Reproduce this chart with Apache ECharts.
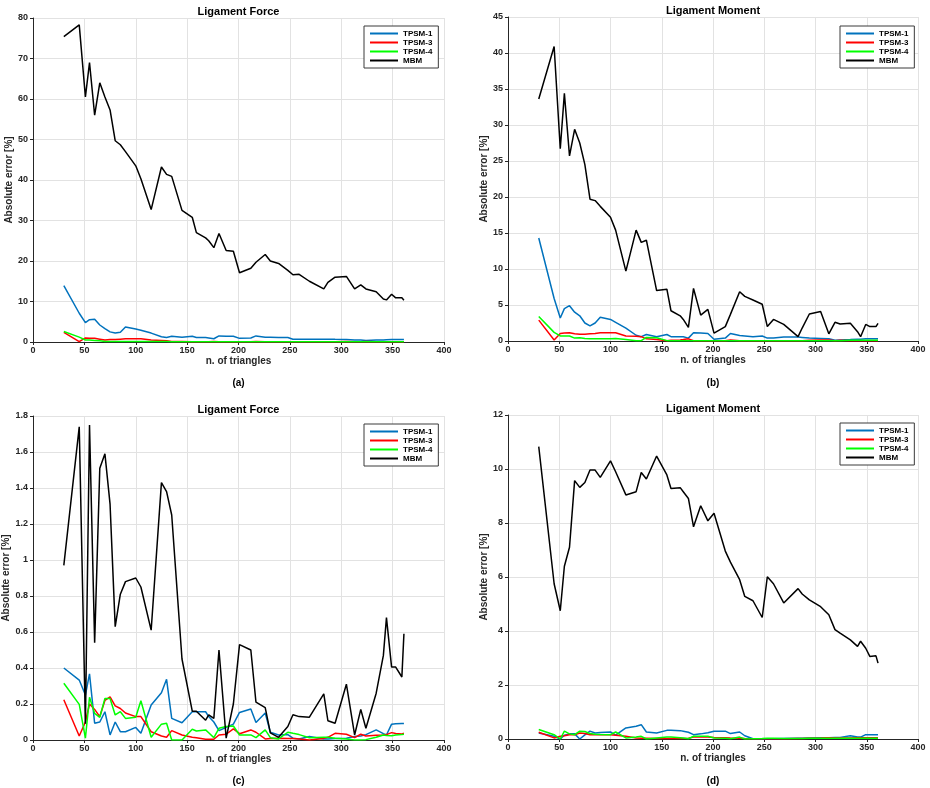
<!DOCTYPE html>
<html><head><meta charset="utf-8">
<script src="https://cdn.jsdelivr.net/npm/echarts@6/dist/echarts.min.js"></script>
<style>html,body{margin:0;padding:0;background:#fff}#c{width:930px;height:788px}</style>
</head><body><div id="c"></div>
<script>
// number of triangles (shared x values)
const triangles = [30,45,51,55,60,65,70,75,80,85,90,100,105,115,125,130,135,145,155,159,168,171,176,181,188,195,201,212,217,226,231,239,248,253,259,269,283,287,294,305,313,319,324,334,341,344,349,353,359,361];
const seriesNames = ['TPSM-1','TPSM-3','TPSM-4','MBM'];
const seriesColors = ['#0072BD','#FF0000','#00FF00','#000000'];
const panelTitles = ['Ligament Force','Ligament Moment','Ligament Force','Ligament Moment'];
const panelLabels = ['(a)','(b)','(c)','(d)'];
const yMax = [80,45,1.8,12];
const yStep = [10,5,0.2,2];

// (a) Ligament Force
const aTPSM1 = [13.9,7.1,4.8,5.5,5.6,4.2,3.3,2.5,2.2,2.4, 3.7,3.2,2.9,2.2,1.3,1.1,1.4,1.2,1.4,1.1, 1.1,1.0,0.8,1.5,1.4,1.4,0.9,1.0,1.5,1.2, 1.2,1.1,1.1,0.7,0.7,0.7,0.7,0.7,0.65,0.6, 0.5,0.5,0.4,0.5,0.5,0.55,0.6,0.6,0.6,0.6];
const aTPSM3 = [2.4,0.1,1.0,0.9,0.9,0.7,0.5,0.6,0.6,0.7, 0.8,0.8,0.8,0.5,0.4,0.3,0.1,0.1,0.05,0.05, 0.05,0.05,0.1,0.05,0.05,0.05,0.05,0.05,0.1,0.05, 0.05,0.05,0.05,0.05,0.05,0.05,0.05,0.05,0.05,0.1, 0.05,0.05,0.1,0.05,0.05,0.05,0.05,0.05,0.05,0.05];
const aTPSM4 = [2.6,1.2,0.5,0.5,0.4,0.3,0.15,0.15,0.1,0.1, 0.1,0.1,0.1,0.1,0.1,0.1,0.05,0.05,0.05,0.05, 0.05,0.05,0.05,0.05,0.05,0.05,0.05,0.05,0.05,0.05, 0.05,0.05,0.05,0.05,0.05,0.05,0.05,0.05,0.05,0.05, 0.05,0.05,0.05,0.05,0.05,0.05,0.05,0.05,0.05,0.05];
const aMBM = [75.4,78.3,60.5,69,56,64,60.5,57.3,49.7,48.7, 47.0,43.5,40.3,32.7,43.2,41.4,40.9,32.5,30.8,27, 25.7,25,23.3,26.8,22.6,22.4,17.1,18.2,19.7,21.6, 20,19.4,17.7,16.6,16.7,15,13.1,14.7,16,16.2, 13.1,14.1,13.1,12.4,10.6,10.4,11.8,10.9,10.9,10.3];

// (b) Ligament Moment
const bTPSM1 = [14.3,5.9,3.2,4.5,4.9,4.0,3.5,2.5,2.1,2.5, 3.3,3.0,2.6,1.8,0.8,0.6,0.9,0.6,0.9,0.6, 0.6,0.6,0.4,1.15,1.1,1.05,0.25,0.4,1.05,0.75, 0.7,0.6,0.7,0.4,0.4,0.55,0.55,0.5,0.4,0.35, 0.3,0.1,0.15,0.2,0.25,0.25,0.3,0.3,0.3,0.3];
const bTPSM3 = [2.9,0.15,1.05,1.1,1.15,1.0,0.95,0.95,1.0,1.05, 1.15,1.15,1.15,0.7,0.65,0.6,0.3,0.2,0.05,0.1, 0.15,0.2,0.3,0.05,0.05,0.05,0.05,0.05,0.15,0.05, 0.05,0.05,0.05,0.05,0.05,0.05,0.05,0.05,0.1,0.15, 0.15,0.05,0.1,0.05,0.05,0.05,0.05,0.05,0.05,0.05];
const bTPSM4 = [3.4,1.2,0.7,0.7,0.7,0.4,0.45,0.35,0.3,0.3, 0.3,0.3,0.35,0.2,0.05,0.05,0.5,0.45,0.05,0.05, 0.05,0.05,0.05,0.05,0.05,0.05,0.05,0.05,0.05,0.05, 0.05,0.05,0.05,0.05,0.05,0.05,0.05,0.05,0.05,0.05, 0.05,0.05,0.05,0.1,0.1,0.1,0.1,0.1,0.1,0.1];
const bMBM = [33.6,40.9,26.7,34.4,25.7,29.4,27.5,24.5,19.7,19.5, 18.7,17.2,15.4,9.7,15.4,13.7,14.0,7.0,7.2,4.2, 3.5,3.0,1.9,7.3,3.6,4.4,1.1,2.0,3.7,6.85, 6.2,5.7,5.1,2.0,3.0,2.3,0.6,1.8,3.75,4.1, 1.0,2.6,2.35,2.45,1.3,0.6,2.3,2.0,2.0,2.45];

// (c) Ligament Force
const cTPSM1 = [0.40,0.333,0.25,0.367,0.093,0.10,0.157,0.028,0.10,0.046, 0.046,0.07,0.037,0.194,0.263,0.337,0.12,0.096,0.157,0.157, 0.157,0.13,0.10,0.052,0.07,0.088,0.153,0.172,0.097,0.15, 0.043,0.028,0.03,0.01,0.005,0.02,0.005,0.005,0.008,0.01, 0.02,0.022,0.03,0.056,0.035,0.028,0.088,0.09,0.091,0.091];
const cTPSM3 = [0.224,0.022,0.10,0.20,0.17,0.13,0.22,0.24,0.19,0.175, 0.15,0.13,0.13,0.046,0.022,0.015,0.052,0.028,0.015,0.012, 0.004,0.004,0.004,0.028,0.032,0.062,0.035,0.056,0.043,0.006, 0.008,0.01,0.009,0.008,0.006,0.0,0.009,0.015,0.037,0.032, 0.013,0.032,0.022,0.026,0.028,0.03,0.041,0.036,0.034,0.037];
const cTPSM4 = [0.315,0.198,0.01,0.237,0.148,0.126,0.231,0.231,0.139,0.157, 0.12,0.126,0.218,0.015,0.088,0.093,0.0,0.0,0.06,0.05, 0.056,0.04,0.013,0.065,0.075,0.078,0.028,0.028,0.013,0.056, 0.013,0.006,0.043,0.037,0.03,0.013,0.015,0.015,0.01,0.006, 0.0,0.0,0.002,0.015,0.028,0.025,0.024,0.028,0.03,0.032];
const cMBM = [0.97,1.74,0.09,1.75,0.54,1.51,1.59,1.31,0.63,0.81, 0.88,0.90,0.85,0.61,1.43,1.38,1.25,0.45,0.16,0.16, 0.11,0.14,0.12,0.50,0.01,0.20,0.53,0.50,0.21,0.18, 0.04,0.015,0.075,0.14,0.13,0.127,0.256,0.107,0.093,0.31, 0.028,0.17,0.065,0.26,0.47,0.68,0.405,0.405,0.35,0.59];

// (d) Ligament Moment
const dTPSM1 = [0.22,0.1,0.0,0.14,0.19,0.19,0.0,0.15,0.29,0.22, 0.24,0.26,0.14,0.41,0.47,0.53,0.26,0.22,0.32,0.32, 0.31,0.29,0.25,0.16,0.19,0.23,0.29,0.29,0.2,0.26, 0.12,0.01,0.0,0.01,0.01,0.02,0.03,0.03,0.04,0.05, 0.05,0.06,0.06,0.12,0.07,0.07,0.16,0.16,0.16,0.16];
const dTPSM3 = [0.25,0.04,0.1,0.12,0.16,0.16,0.22,0.2,0.16,0.16, 0.16,0.16,0.14,0.1,0.04,0.03,0.03,0.02,0.02,0.02, 0.02,0.02,0.03,0.07,0.07,0.07,0.06,0.05,0.04,0.03, 0.02,0.01,0.01,0.01,0.01,0.01,0.02,0.02,0.03,0.04, 0.05,0.04,0.04,0.04,0.05,0.05,0.05,0.05,0.05,0.05];
const dTPSM4 = [0.35,0.16,0.0,0.29,0.19,0.16,0.29,0.28,0.2,0.18, 0.17,0.16,0.26,0.04,0.07,0.1,0.0,0.04,0.07,0.07, 0.05,0.04,0.01,0.1,0.1,0.1,0.04,0.03,0.01,0.07, 0.0,0.01,0.02,0.03,0.03,0.02,0.02,0.02,0.03,0.03, 0.03,0.03,0.03,0.03,0.03,0.03,0.03,0.03,0.03,0.03];
const dMBM = [10.83,5.75,4.75,6.4,7.1,9.57,9.32,9.5,9.96,9.96, 9.69,10.3,9.9,9.04,9.16,9.87,9.63,10.48,9.78,9.28, 9.31,9.16,8.91,7.86,8.64,8.08,8.36,6.96,6.55,5.9, 5.28,5.12,4.5,6.01,5.75,5.04,5.57,5.37,5.15,4.9, 4.6,4.05,3.92,3.67,3.43,3.62,3.36,3.06,3.08,2.81];

const panelData = [
  [aTPSM1,aTPSM3,aTPSM4,aMBM],
  [bTPSM1,bTPSM3,bTPSM4,bMBM],
  [cTPSM1,cTPSM3,cTPSM4,cMBM],
  [dTPSM1,dTPSM3,dTPSM4,dMBM]
];

const FONT = '"Liberation Sans", Arial, Helvetica, sans-serif';
const AX = '#262626';
const GRIDC = '#e2e2e2';

const grids = [
  {left:33, top:18, width:411, height:324},
  {left:508, top:17, width:410, height:324},
  {left:33, top:416, width:411, height:324},
  {left:508, top:415, width:410, height:324}
];

const xAxes = [], yAxes = [], series = [], legends = [], graphics = [];
grids.forEach((g, i) => {
  g.outerBoundsMode = 'none';
  g.containLabel = false;
  xAxes.push({
    type:'value', gridIndex:i, min:0, max:400, interval:50,
    name:'n. of triangles', nameLocation:'middle', nameGap:13,
    nameTextStyle:{fontSize:10, fontWeight:'bold', color:AX, fontFamily:FONT},
    axisLine:{show:true, onZero:false, lineStyle:{color:AX, width:1}},
    axisTick:{show:true, inside:false, length:3, lineStyle:{color:AX}},
    axisLabel:{margin:4, fontSize:9, fontWeight:'bold', color:AX, fontFamily:FONT, showMinLabel:true, showMaxLabel:true},
    splitLine:{show:true, lineStyle:{color:GRIDC, width:1}}
  });
  yAxes.push({
    type:'value', gridIndex:i, min:0, max:yMax[i], interval:yStep[i],
    name:'Absolute error [%]', nameLocation:'middle', nameGap:17,
    nameTextStyle:{fontSize:10, fontWeight:'bold', color:AX, fontFamily:FONT},
    axisLine:{show:true, onZero:false, lineStyle:{color:AX, width:1}},
    axisTick:{show:true, inside:false, length:3, lineStyle:{color:AX}},
    axisLabel:{margin:5, fontSize:9, fontWeight:'bold', color:AX, fontFamily:FONT, showMinLabel:true, showMaxLabel:true},
    splitLine:{show:true, lineStyle:{color:GRIDC, width:1}}
  });
  panelData[i].forEach((ys, k) => {
    series.push({
      type:'line', name:seriesNames[k], xAxisIndex:i, yAxisIndex:i,
      data: triangles.map((x, j) => [x, ys[j]]),
      showSymbol:false, symbol:'none', animation:false, clip:true,
      lineStyle:{color:seriesColors[k], width:1.5},
      itemStyle:{color:seriesColors[k]},
      z: 2 + k
    });
  });
  const lx = i % 2 === 0 ? 364 : 840;
  const ly = i < 2 ? 26 : (i === 2 ? 424 : 423);
  legends.push({
    data: seriesNames, orient:'vertical', left:lx, top:ly,
    icon:'rect', itemWidth:28, itemHeight:2, itemGap:0,
    padding:[3,6,3,6], borderColor:'#3a3a3a', borderWidth:1, backgroundColor:'#fff',
    textStyle:{fontSize:8, fontWeight:'bold', color:'#000', fontFamily:FONT, lineHeight:9},
    selectedMode:false
  });
  const cx = g.left + g.width / 2;
  graphics.push({
    type:'text', x:cx, y:g.top - 6, z:10,
    style:{text:panelTitles[i], font:'bold 11px ' + FONT, fill:'#000', textAlign:'center', textVerticalAlign:'middle', align:'center', verticalAlign:'middle'}
  });
  graphics.push({
    type:'text', x:cx, y:(i < 2 ? 383 : 781), z:10,
    style:{text:panelLabels[i], font:'bold 10px ' + FONT, fill:'#000', textAlign:'center', textVerticalAlign:'middle', align:'center', verticalAlign:'middle'}
  });
});

const chart = echarts.init(document.getElementById('c'), null, {renderer:'canvas', width:930, height:788});
chart.setOption({
  backgroundColor:'#fff',
  animation:false,
  grid: grids,
  xAxis: xAxes,
  yAxis: yAxes,
  legend: legends,
  series: series,
  graphic: graphics
});
</script>
</body></html>
